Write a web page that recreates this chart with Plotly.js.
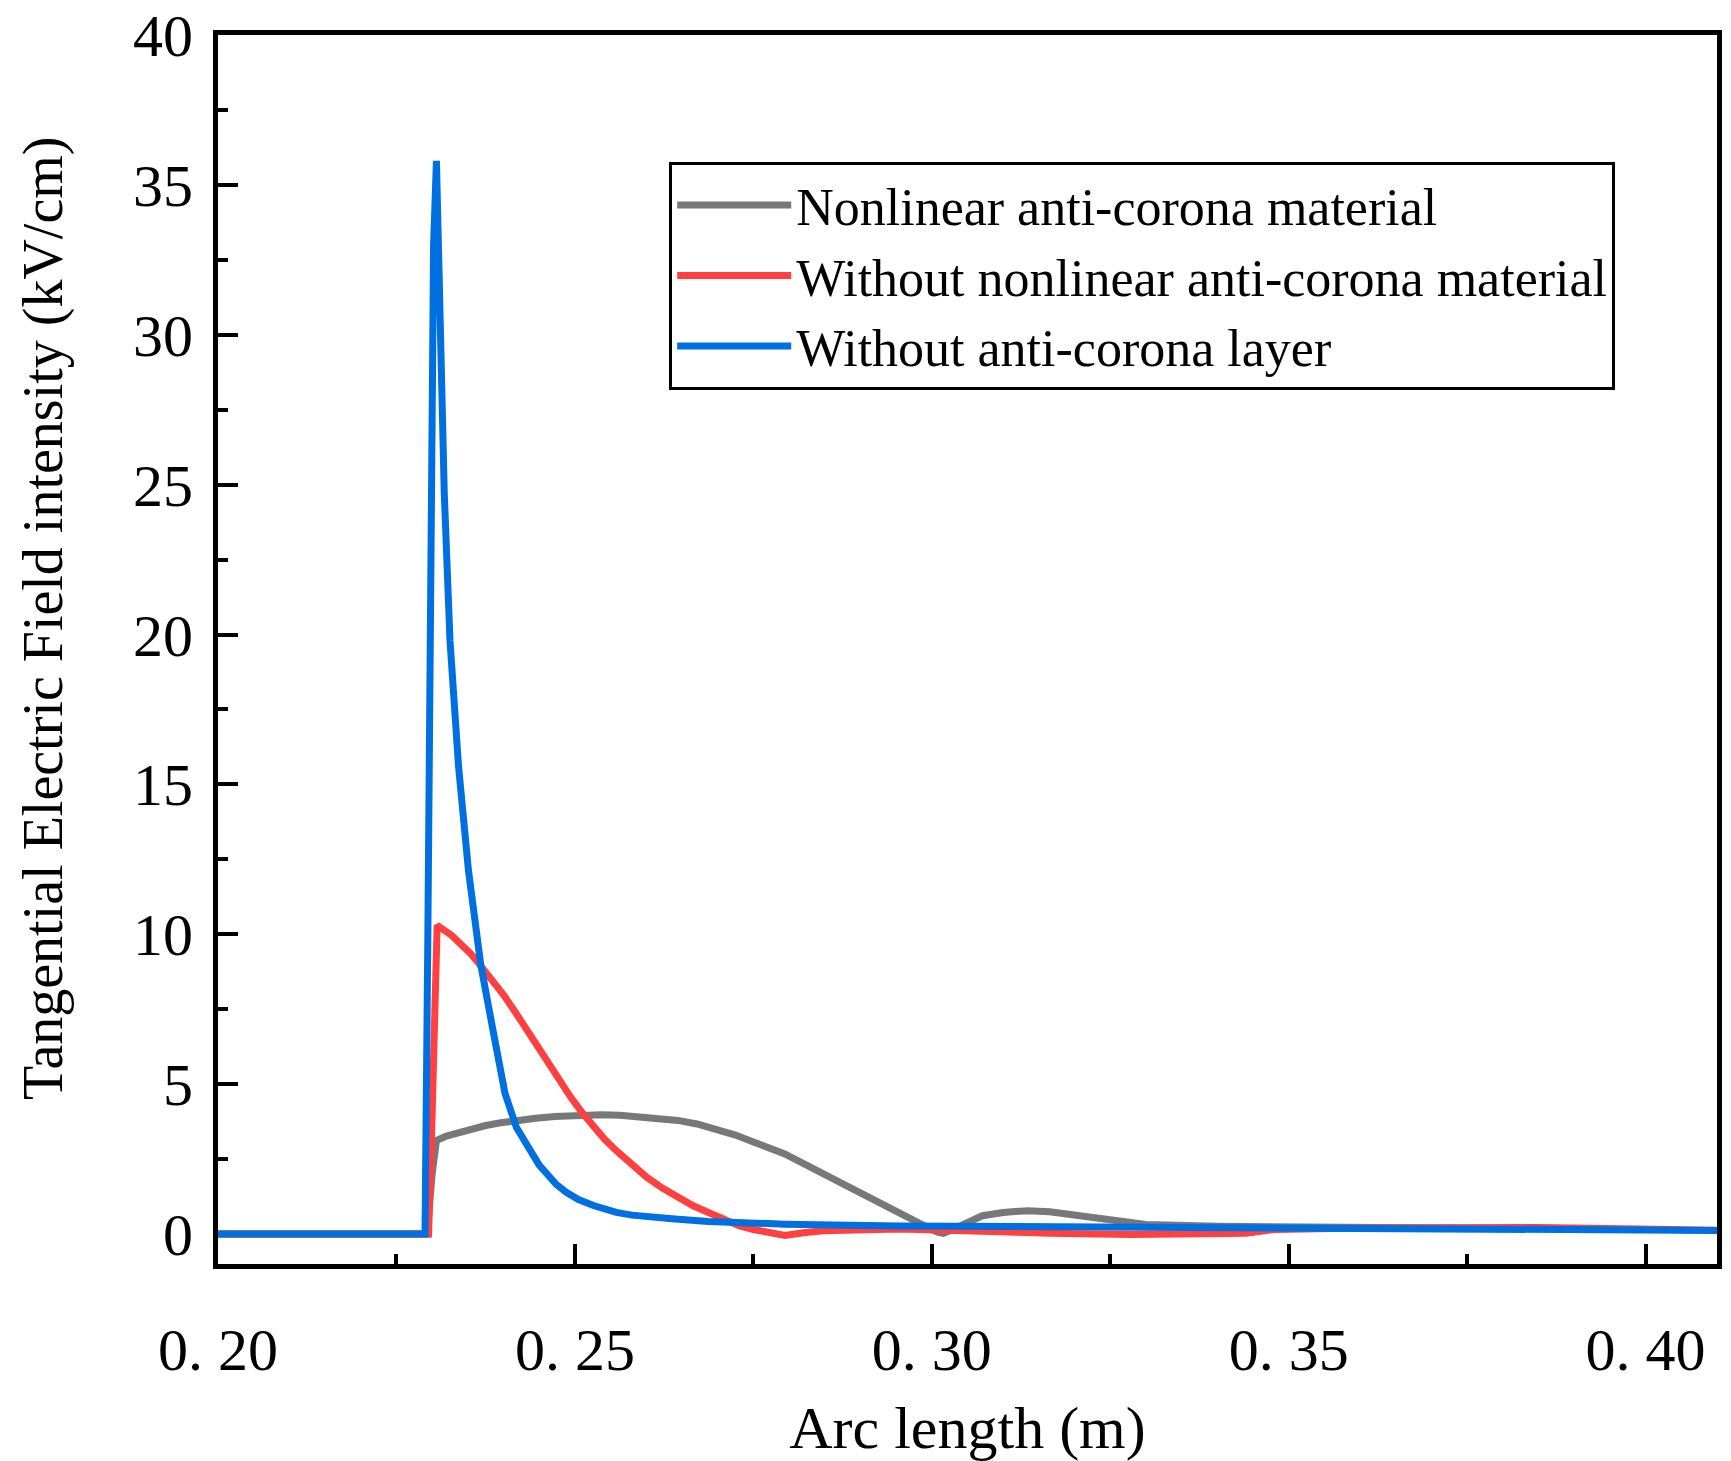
<!DOCTYPE html>
<html>
<head>
<meta charset="utf-8">
<script src="https://cdn.plot.ly/plotly-3.0.1.min.js"></script>
<style>
  html, body { margin: 0; padding: 0; background: #fff; }
  #chart { width: 1731px; height: 1461px; }
</style>
</head>
<body>
<div id="chart"></div>
<script>
// series names
var names = ['Nonlinear anti-corona material', 'Without nonlinear anti-corona material', 'Without anti-corona layer'];

// Nonlinear anti-corona material (grey)
var xGrey = [0.200, 0.2293, 0.2300, 0.2306, 0.2320, 0.2338, 0.2356, 0.2375, 0.2396, 0.2418, 0.2445, 0.2472, 0.2505, 0.2537, 0.2563, 0.2590, 0.2617, 0.2644, 0.2671, 0.2698, 0.2725, 0.2751, 0.2773, 0.2794, 0.2821, 0.2848, 0.2875, 0.2902, 0.2929, 0.2955, 0.2998, 0.3008, 0.3016, 0.3026, 0.3036, 0.3053, 0.3071, 0.3100, 0.3134, 0.3165, 0.3189, 0.3217, 0.3244, 0.3272, 0.3300, 0.3400, 0.3700, 0.4000];
var yGrey = [0, 0, 2.0, 3.12, 3.27, 3.40, 3.52, 3.62, 3.71, 3.79, 3.86, 3.92, 3.96, 3.98, 3.96, 3.92, 3.87, 3.79, 3.67, 3.51, 3.30, 3.06, 2.87, 2.67, 2.34, 2.00, 1.67, 1.34, 1.00, 0.67, 0.17, 0.06, 0.02, 0.12, 0.22, 0.42, 0.61, 0.72, 0.78, 0.74, 0.67, 0.58, 0.49, 0.40, 0.32, 0.26, 0.22, 0.15];

// Without nonlinear anti-corona material (red)
var xRed = [0.200, 0.2295, 0.2300, 0.2307, 0.2327, 0.2340, 0.2354, 0.2367, 0.2381, 0.2400, 0.2418, 0.2437, 0.2456, 0.2475, 0.2494, 0.2510, 0.2526, 0.2542, 0.2558, 0.2580, 0.2601, 0.2622, 0.2644, 0.2665, 0.2687, 0.2708, 0.2730, 0.2750, 0.2767, 0.2794, 0.2820, 0.2848, 0.2955, 0.3047, 0.3165, 0.3280, 0.3378, 0.3440, 0.3480, 0.3600, 0.3850, 0.4100];
var yRed = [0, 0, 4.0, 10.3, 9.97, 9.68, 9.35, 8.98, 8.57, 7.98, 7.35, 6.65, 5.90, 5.22, 4.57, 4.05, 3.56, 3.15, 2.78, 2.32, 1.89, 1.54, 1.22, 0.95, 0.72, 0.49, 0.28, 0.15, 0.06, -0.05, 0.04, 0.11, 0.17, 0.09, 0.03, -0.02, -0.02, 0.03, 0.15, 0.20, 0.22, 0.13];

// Without anti-corona layer (blue)
var xBlue = [0.200, 0.2290, 0.2294, 0.2298, 0.2302, 0.2306, 0.2311, 0.2317, 0.2325, 0.2337, 0.2351, 0.2368, 0.2386, 0.2402, 0.2418, 0.2430, 0.2440, 0.2450, 0.2461, 0.2474, 0.2488, 0.2505, 0.2526, 0.2558, 0.2580, 0.2606, 0.2640, 0.2687, 0.2794, 0.2955, 0.3100, 0.3440, 0.3760, 0.4100];
var yBlue = [0, 0, 10, 22, 33, 35.8, 30.0, 24.7, 19.8, 15.6, 12.1, 9.0, 6.7, 4.7, 3.56, 3.05, 2.67, 2.30, 2.00, 1.65, 1.39, 1.15, 0.95, 0.72, 0.63, 0.56, 0.50, 0.42, 0.33, 0.27, 0.25, 0.21, 0.17, 0.12];

// tick labels
var xTickVals = [0.20, 0.25, 0.30, 0.35, 0.40];
var xTickText = ['0. 20', '0. 25', '0. 30', '0. 35', '0. 40'];
var yTickVals = [0, 5, 10, 15, 20, 25, 30, 35, 40];

var colors = ['#787878', '#ff4040', '#0070e0'];
var font = 'Liberation Serif, Times New Roman, serif';

var data = [
  { x: xGrey, y: yGrey, name: names[0], type: 'scatter', mode: 'lines', line: { color: colors[0], width: 7 } },
  { x: xRed, y: yRed, name: names[1], type: 'scatter', mode: 'lines', line: { color: colors[1], width: 7 } },
  { x: xBlue, y: yBlue, name: names[2], type: 'scatter', mode: 'lines', line: { color: colors[2], width: 7 } }
];

var layout = {
  width: 1731,
  height: 1461,
  paper_bgcolor: '#fff',
  plot_bgcolor: '#fff',
  margin: { l: 218, r: 14, t: 35, b: 197 },
  font: { family: font, color: '#000', size: 50 },
  showlegend: true,
  legend: {
    x: 0.301, y: 0.897, xanchor: 'left', yanchor: 'top',
    bgcolor: '#fff', bordercolor: '#000', borderwidth: 3,
    font: { family: font, size: 52, color: '#000' },
    itemwidth: 114,
    tracegroupgap: 0
  },
  xaxis: {
    range: [0.2, 0.41],
    tickvals: xTickVals,
    ticktext: xTickText,
    ticks: 'inside', ticklen: 20, tickwidth: 4, tickcolor: '#000',
    minor: { dtick: 0.025, ticks: 'inside', ticklen: 10, tickwidth: 4, tickcolor: '#000' },
    showline: true, linecolor: '#000', linewidth: 5, mirror: true,
    showgrid: false, zeroline: false, layer: 'below traces',
    ticklabelstandoff: 29,
    tickfont: { family: font, size: 60 },
    title: { text: 'Arc length (m)', font: { family: font, size: 60 }, standoff: 43 }
  },
  yaxis: {
    range: [-1, 40],
    tickvals: yTickVals,
    ticks: 'inside', ticklen: 20, tickwidth: 4, tickcolor: '#000',
    minor: { dtick: 2.5, tick0: 0, ticks: 'inside', ticklen: 10, tickwidth: 4, tickcolor: '#000' },
    showline: true, linecolor: '#000', linewidth: 5, mirror: true,
    showgrid: false, zeroline: false, layer: 'below traces',
    ticklabelstandoff: 8,
    tickfont: { family: font, size: 60 }
  },
  annotations: [{
    text: 'Tangential Electric Field intensity (kV/cm)',
    xref: 'paper', yref: 'paper', x: -0.116, y: 0.525,
    xanchor: 'center', yanchor: 'middle', textangle: -90, showarrow: false,
    font: { family: font, size: 56, color: '#000' }
  }]
};

Plotly.newPlot('chart', data, layout, { staticPlot: true });
</script>
</body>
</html>
